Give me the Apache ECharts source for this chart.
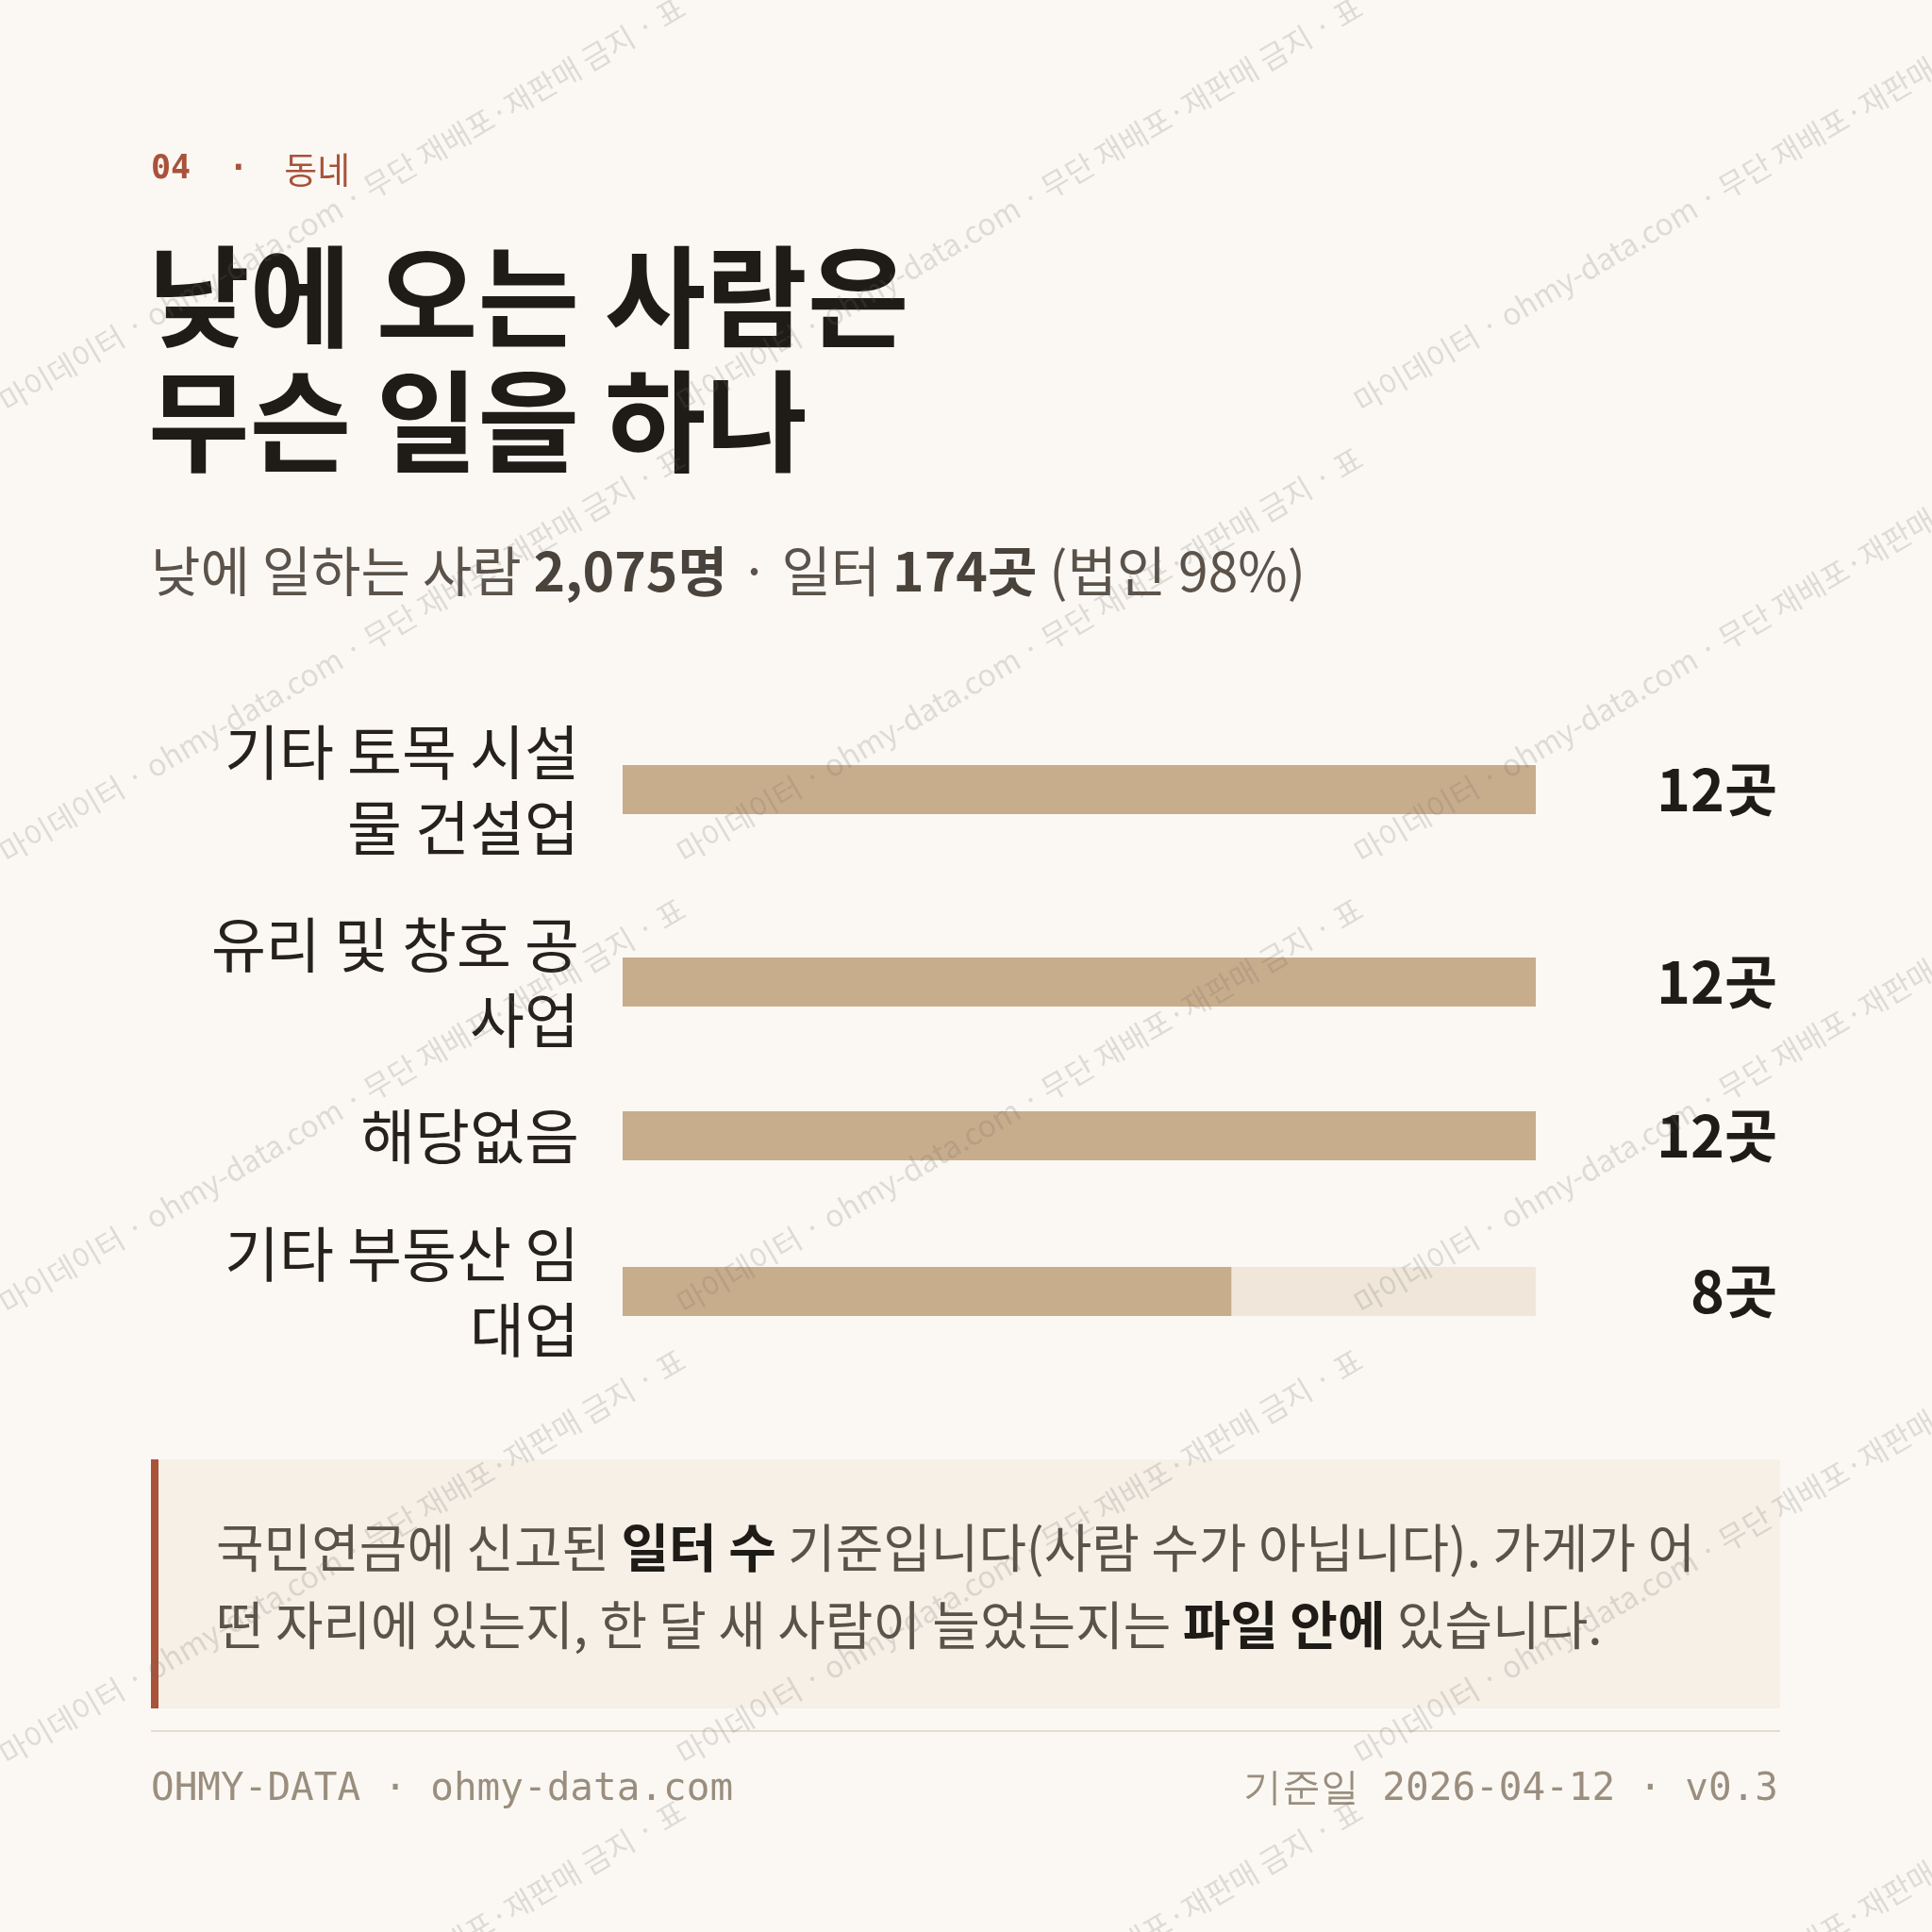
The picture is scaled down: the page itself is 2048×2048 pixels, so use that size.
<!DOCTYPE html>
<html><head><meta charset="utf-8">
<script src="https://cdn.jsdelivr.net/npm/echarts@6/dist/echarts.min.js"></script>
<style>html,body{margin:0;padding:0;background:#FBF8F4}#c{width:2048px;height:2048px}</style>
</head><body><div id="c"></div>
<script>
// ---- data ----
const categories = ['기타 토목 시설물 건설업', '유리 및 창호 공사업', '해당없음', '기타 부동산 임대업'];
const values = [12, 12, 12, 8];
const unit = '곳';
const labelBreakAt = [8, 9, 0, 8];           // where the label wraps in the picture
const eyebrowNum = '04';
const eyebrowText = '동네';
const titleText = '낮에 오는 사람은\n무슨 일을 하나';
const subParts = [['n', '낮에 일하는 사람 '], ['b', '2,075명'], ['n', ' · 일터 '], ['b', '174곳'], ['n', ' (법인 98%)']];
const noteParts = [['n', '국민연금에 신고된 '], ['b', '일터 수'], ['n', ' 기준입니다(사람 수가 아닙니다). 가게가 어\n떤 자리에 있는지, 한 달 새 사람이 늘었는지는 '], ['b', '파일 안에'], ['n', ' 있습니다.']];
const footerLeft = 'OHMY-DATA · ohmy-data.com';
const footerRight = '기준일 2026-04-12 · v0.3';
const watermark = '마이데이터 · ohmy-data.com · 무단 재배포·재판매 금지 · 표';

// ---- style / layout ----
const SANS = '"Noto Sans CJK KR","Noto Sans",sans-serif';
const MONO = '"DejaVu Sans Mono","Liberation Mono",monospace';
const C = { bg: '#FBF8F4', bar: '#C8AD8C', track: '#F0E7DA', ink: '#1F1B17', gray: '#5B534A', accent: '#A8533A', note: '#F6F0E7', rule: '#E4DCCD', foot: '#9A8E7E' };
const rowCenters = [837, 1041, 1204, 1369];
const barH = 52, plotL = 660, plotR = 1628, valRight = 1884;
const maxVal = Math.max(...values);

const grids = [], xAxes = [], yAxes = [], series = [];
categories.forEach((cat, i) => {
  grids.push({ left: plotL, width: plotR - plotL, top: rowCenters[i] - barH / 2, height: barH, containLabel: false });
  xAxes.push({ gridIndex: i, type: 'value', min: 0, max: maxVal, show: false });
  yAxes.push({
    gridIndex: i, type: 'category', data: [cat], position: 'left',
    axisLine: { show: false }, axisTick: { show: false }, splitLine: { show: false },
    axisLabel: {
      margin: plotL - 614, fontSize: 63, lineHeight: 80, color: '#26211C', fontFamily: SANS, align: 'right',
      formatter: v => labelBreakAt[i] ? v.slice(0, labelBreakAt[i]) + '\n' + v.slice(labelBreakAt[i]) : v
    }
  });
  yAxes.push({
    gridIndex: i, type: 'category', data: [values[i] + unit], position: 'right',
    axisLine: { show: false }, axisTick: { show: false }, splitLine: { show: false },
    axisLabel: { margin: valRight - plotR, align: 'right', fontSize: 61, fontWeight: 'bold', color: C.ink, fontFamily: SANS }
  });
  series.push({
    type: 'bar', xAxisIndex: i, yAxisIndex: 2 * i, data: [values[i]], barWidth: barH,
    itemStyle: { color: C.bar }, showBackground: true, backgroundStyle: { color: C.track },
    silent: true, animation: false
  });
});

function rich(parts) { return parts.map(p => '{' + p[0] + '|' + p[1].split('\n').join('}\n{' + p[0] + '|') + '}').join(''); }

const graphics = [
  { type: 'text', x: 160, y: 180, style: {
      text: '{m|' + eyebrowNum + '}{d|·}{k|' + eyebrowText + '}', textVerticalAlign: 'middle',
      rich: { m: { font: 'bold 35px ' + MONO, fill: C.accent, padding: [0, 40, 0, 0] },
              d: { font: 'bold 35px ' + MONO, fill: C.accent, padding: [0, 38, 0, 0] },
              k: { font: '38px ' + SANS, fill: C.accent } } } },
  { type: 'text', x: 157, y: 249, style: { text: titleText, font: 'bold 117px ' + SANS, fill: C.ink, lineHeight: 132, textVerticalAlign: 'top' } },
  { type: 'text', x: 160, y: 605, style: { text: rich(subParts), textVerticalAlign: 'middle',
      rich: { n: { font: '57px ' + SANS, fill: C.gray }, b: { font: 'bold 57px ' + SANS, fill: '#4A433B' } } } },
  { type: 'rect', shape: { x: 160, y: 1547, width: 1727, height: 264 }, style: { fill: C.note } },
  { type: 'rect', shape: { x: 160, y: 1547, width: 8, height: 264 }, style: { fill: C.accent } },
  { type: 'text', x: 229, y: 1681, style: { text: rich(noteParts), textVerticalAlign: 'middle',
      rich: { n: { font: '55px ' + SANS, fill: C.gray, lineHeight: 82 }, b: { font: 'bold 55px ' + SANS, fill: C.ink, lineHeight: 82 } } } },
  { type: 'line', shape: { x1: 160, y1: 1835, x2: 1887, y2: 1835 }, style: { stroke: C.rule, lineWidth: 2 } },
  { type: 'text', x: 160, y: 1897, style: { text: footerLeft, font: '41px ' + MONO, fill: C.foot, textVerticalAlign: 'middle' } },
  { type: 'text', x: 1885, y: 1897, style: { text: footerRight, font: '41px ' + MONO, fill: C.foot, textAlign: 'right', textVerticalAlign: 'middle' } }
];
// watermark tiles
const rot = 30.4 * Math.PI / 180;
for (let r = -1; r < 6; r++) {
  for (let c = 0; c < 3; c++) {
    graphics.push({ type: 'text', x: 2 + c * 718, y: 428 + r * 478, rotation: rot, z: 100, silent: true,
      style: { text: watermark, font: '32px ' + SANS, fill: 'rgba(110,104,98,0.2)', textVerticalAlign: 'middle' } });
  }
}

const chart = echarts.init(document.getElementById('c'), null, { renderer: 'canvas', width: 2048, height: 2048 });
chart.setOption({
  backgroundColor: C.bg, animation: false,
  grid: grids, xAxis: xAxes, yAxis: yAxes, series: series,
  graphic: { elements: graphics }
});
</script></body></html>
